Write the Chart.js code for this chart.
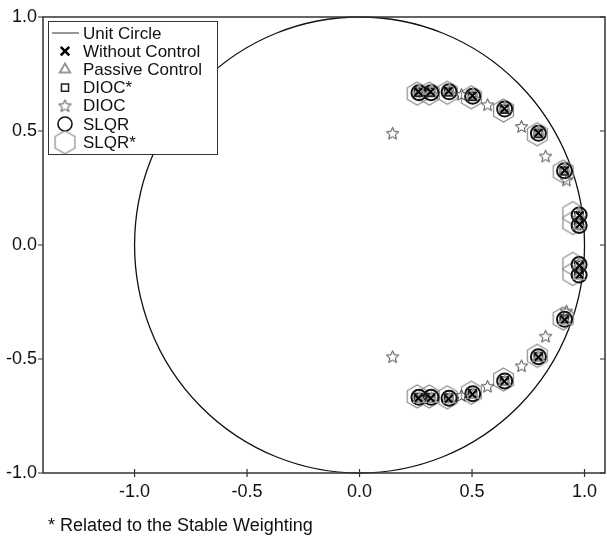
<!DOCTYPE html>
<html>
<head>
<meta charset="utf-8">
<script src="https://cdn.jsdelivr.net/npm/chart.js@4.4.1/dist/chart.umd.min.js"></script>
<style>
  html, body { margin: 0; padding: 0; background: #fff; }
  #wrap { width: 607px; height: 537px; }
</style>
</head>
<body>
<div id="wrap"><canvas id="poleChart" width="607" height="537"></canvas></div>
<script>
var withoutRe = [0.262, 0.316, 0.396, 0.502, 0.644, 0.795, 0.912, 0.978, 0.978, 0.978, 0.978, 0.912, 0.795, 0.644, 0.502, 0.396, 0.316, 0.262];
var withoutIm = [0.672, 0.672, 0.675, 0.655, 0.598, 0.492, 0.328, 0.130, 0.090, -0.090, -0.130, -0.328, -0.492, -0.598, -0.655, -0.675, -0.672, -0.672];

var passiveRe = [0.266, 0.320, 0.400, 0.505, 0.646, 0.796, 0.912, 0.975, 0.975, 0.975, 0.975, 0.912, 0.796, 0.646, 0.505, 0.400, 0.320, 0.266];
var passiveIm = [0.675, 0.675, 0.678, 0.658, 0.600, 0.495, 0.332, 0.135, 0.085, -0.085, -0.135, -0.332, -0.495, -0.600, -0.658, -0.678, -0.675, -0.675];

var diocStarRe = [0.262, 0.316, 0.396, 0.502, 0.644, 0.795, 0.910, 0.975, 0.975, 0.975, 0.975, 0.910, 0.795, 0.644, 0.502, 0.396, 0.316, 0.262];
var diocStarIm = [0.670, 0.670, 0.672, 0.652, 0.596, 0.490, 0.325, 0.128, 0.088, -0.088, -0.128, -0.325, -0.490, -0.596, -0.652, -0.672, -0.670, -0.670];

var diocRe = [0.147, 0.453, 0.569, 0.720, 0.827, 0.920, 0.920, 0.827, 0.720, 0.569, 0.453, 0.147];
var diocIm = [0.490, 0.660, 0.615, 0.520, 0.390, 0.285, -0.290, -0.400, -0.530, -0.620, -0.660, -0.490];

var slqrRe = [0.264, 0.318, 0.398, 0.503, 0.645, 0.795, 0.911, 0.976, 0.976, 0.976, 0.976, 0.911, 0.795, 0.645, 0.503, 0.398, 0.318, 0.264];
var slqrIm = [0.668, 0.668, 0.672, 0.652, 0.596, 0.490, 0.326, 0.132, 0.086, -0.086, -0.132, -0.326, -0.490, -0.596, -0.652, -0.672, -0.668, -0.668];

var slqrStarRe = [0.256, 0.310, 0.390, 0.497, 0.640, 0.790, 0.905, 0.948, 0.948, 0.948, 0.948, 0.905, 0.790, 0.640, 0.497, 0.390, 0.310, 0.256];
var slqrStarIm = [0.664, 0.664, 0.668, 0.648, 0.590, 0.486, 0.322, 0.140, 0.097, -0.083, -0.127, -0.322, -0.486, -0.590, -0.648, -0.668, -0.664, -0.664];

var xTicks = [-1.0, -0.5, 0.0, 0.5, 1.0];
var yTicks = [-1.0, -0.5, 0.0, 0.5, 1.0];
var xMin = -1.407, xMax = 1.091;
var yMin = -1, yMax = 1;

var FONT = '"Liberation Sans", Arial, sans-serif';

function pts(re, im) {
  return re.map(function (r, i) { return { x: r, y: im[i] }; });
}

function makeHexagon(r, color) {
  var s = Math.ceil(r * 2 + 4);
  var c = document.createElement("canvas");
  c.width = s; c.height = s;
  var g = c.getContext("2d");
  g.strokeStyle = color;
  g.lineWidth = 1.2;
  g.beginPath();
  for (var k = 0; k < 6; k++) {
    var a = -Math.PI / 2 + k * Math.PI / 3;
    var px = s / 2 + r * Math.cos(a), py = s / 2 + r * Math.sin(a);
    if (k === 0) g.moveTo(px, py); else g.lineTo(px, py);
  }
  g.closePath();
  g.stroke();
  return c;
}

function makeStar(r, color) {
  var s = Math.ceil(r * 2 + 4);
  var c = document.createElement("canvas");
  c.width = s; c.height = s;
  var g = c.getContext("2d");
  g.strokeStyle = color;
  g.lineWidth = 1;
  g.beginPath();
  for (var k = 0; k < 10; k++) {
    var rr = k % 2 === 0 ? r : r * 0.45;
    var a = -Math.PI / 2 + k * Math.PI / 5;
    var px = s / 2 + rr * Math.cos(a), py = s / 2 + 0.5 + rr * Math.sin(a);
    if (k === 0) g.moveTo(px, py); else g.lineTo(px, py);
  }
  g.closePath();
  g.stroke();
  return c;
}

var hexImg = makeHexagon(11.5, "#8a8a8a");
var starImg = makeStar(6.5, "#444");

var datasets = [
  { label: "SLQR*", data: pts(slqrStarRe, slqrStarIm), pointStyle: hexImg, order: 6 },
  { label: "SLQR", data: pts(slqrRe, slqrIm), pointStyle: "circle", pointRadius: 7.5,
    borderColor: "#111", borderWidth: 2, order: 5 },
  { label: "DIOC*", data: pts(diocStarRe, diocStarIm), pointStyle: "rect", pointRadius: 5.5,
    borderColor: "#222", borderWidth: 2, order: 4 },
  { label: "Passive Control", data: pts(passiveRe, passiveIm), pointStyle: "triangle", pointRadius: 6,
    borderColor: "#999", borderWidth: 2, order: 3 },
  { label: "Without Control", data: pts(withoutRe, withoutIm), pointStyle: "crossRot", pointRadius: 5,
    borderColor: "#000", borderWidth: 2, order: 2 },
  { label: "DIOC", data: pts(diocRe, diocIm), pointStyle: starImg, order: 1 }
];
datasets.forEach(function (d) {
  d.backgroundColor = "rgba(0,0,0,0)";
  d.pointHoverRadius = d.pointRadius;
});

// unit circle, drawn through the scales
var unitCircle = {
  id: "unitCircle",
  beforeDatasetsDraw: function (chart) {
    var xs = chart.scales.x, ys = chart.scales.y, ctx = chart.ctx;
    var cx = xs.getPixelForValue(0), cy = ys.getPixelForValue(0);
    var rx = xs.getPixelForValue(1) - cx, ry = cy - ys.getPixelForValue(1);
    ctx.save();
    ctx.strokeStyle = "#111";
    ctx.lineWidth = 1.3;
    ctx.beginPath();
    ctx.ellipse(cx, cy, rx, ry, 0, 0, Math.PI * 2);
    ctx.stroke();
    ctx.restore();
  }
};

var legendRows = [
  { text: "Unit Circle", line: true },
  { text: "Without Control", ds: 4, r: 6, bw: 2.5 },
  { text: "Passive Control", ds: 3, r: 6, bw: 2 },
  { text: "DIOC*", ds: 2, r: 5, bw: 1.5 },
  { text: "DIOC", ds: 5 },
  { text: "SLQR", ds: 1, r: 7, bw: 1.6 },
  { text: "SLQR*", ds: 0 }
];

var frameAndLegend = {
  id: "frameAndLegend",
  afterDraw: function (chart) {
    var ctx = chart.ctx, a = chart.chartArea;
    var xs = chart.scales.x, ys = chart.scales.y;
    ctx.save();
    // frame
    ctx.strokeStyle = "#333";
    ctx.lineWidth = 1.5;
    ctx.strokeRect(a.left, a.top, a.right - a.left, a.bottom - a.top);
    ctx.lineWidth = 1.2;
    ctx.beginPath();
    xTicks.forEach(function (v) {
      var px = xs.getPixelForValue(v);
      ctx.moveTo(px, a.bottom - 4); ctx.lineTo(px, a.bottom + 4);
    });
    yTicks.forEach(function (v) {
      var py = ys.getPixelForValue(v);
      ctx.moveTo(a.left - 5, py); ctx.lineTo(a.left, py);
      ctx.moveTo(a.right - 5, py); ctx.lineTo(a.right, py);
    });
    ctx.stroke();

    // legend box
    var bx = 48, by = 21, bw = 169, bh = 133;
    ctx.fillStyle = "#fff";
    ctx.fillRect(bx, by, bw, bh);
    ctx.strokeStyle = "#333";
    ctx.lineWidth = 1;
    ctx.strokeRect(bx + 0.5, by + 0.5, bw, bh);
    ctx.font = "17px " + FONT;
    ctx.textBaseline = "middle";
    legendRows.forEach(function (row, i) {
      var cy = 33 + i * 18.2;
      if (row.line) {
        ctx.strokeStyle = "#333";
        ctx.lineWidth = 1;
        ctx.beginPath();
        ctx.moveTo(52, cy); ctx.lineTo(79, cy);
        ctx.stroke();
      } else {
        var d = chart.data.datasets[row.ds];
        ctx.strokeStyle = d.borderColor || "#000";
        ctx.fillStyle = "rgba(0,0,0,0)";
        ctx.lineWidth = row.bw || 1;
        Chart.helpers.drawPoint(ctx, {
          pointStyle: d.pointStyle,
          radius: row.r || 5,
          rotation: 0,
          borderWidth: row.bw || 1
        }, 65, cy);
      }
      ctx.fillStyle = "#111";
      ctx.fillText(row.text, 83, cy + 1);
    });

    // footnote
    ctx.font = "18px " + FONT;
    ctx.fillStyle = "#111";
    ctx.textBaseline = "middle";
    ctx.fillText("* Related to the Stable Weighting", 48, 526);
    ctx.restore();
  }
};

new Chart(document.getElementById("poleChart").getContext("2d"), {
  type: "scatter",
  data: { datasets: datasets },
  options: {
    responsive: false,
    animation: false,
    layout: { autoPadding: false, padding: { top: 17, right: 2, left: 0, bottom: 0 } },
    scales: {
      x: {
        type: "linear",
        min: xMin,
        max: xMax,
        grid: { display: false, drawTicks: false },
        border: { display: false },
        afterBuildTicks: function (scale) {
          scale.ticks = xTicks.map(function (v) { return { value: v }; });
        },
        afterFit: function (scale) {
          scale.height = 64;
          scale.paddingLeft = 0;
          scale.paddingRight = 0;
        },
        ticks: {
          padding: 8,
          color: "#111",
          font: { family: FONT, size: 18 },
          maxRotation: 0,
          callback: function (v) { return Number(v).toFixed(1); }
        }
      },
      y: {
        type: "linear",
        min: yMin,
        max: yMax,
        grid: { display: false, drawTicks: false },
        border: { display: false },
        afterBuildTicks: function (scale) {
          scale.ticks = yTicks.map(function (v) { return { value: v }; });
        },
        afterFit: function (scale) {
          scale.width = 43;
          scale.paddingTop = 0;
          scale.paddingBottom = 0;
        },
        ticks: {
          padding: 6,
          color: "#111",
          font: { family: FONT, size: 18 },
          callback: function (v) { return Number(v).toFixed(1); }
        }
      }
    },
    plugins: {
      legend: { display: false },
      tooltip: { enabled: false }
    }
  },
  plugins: [unitCircle, frameAndLegend]
});
</script>
</body>
</html>
